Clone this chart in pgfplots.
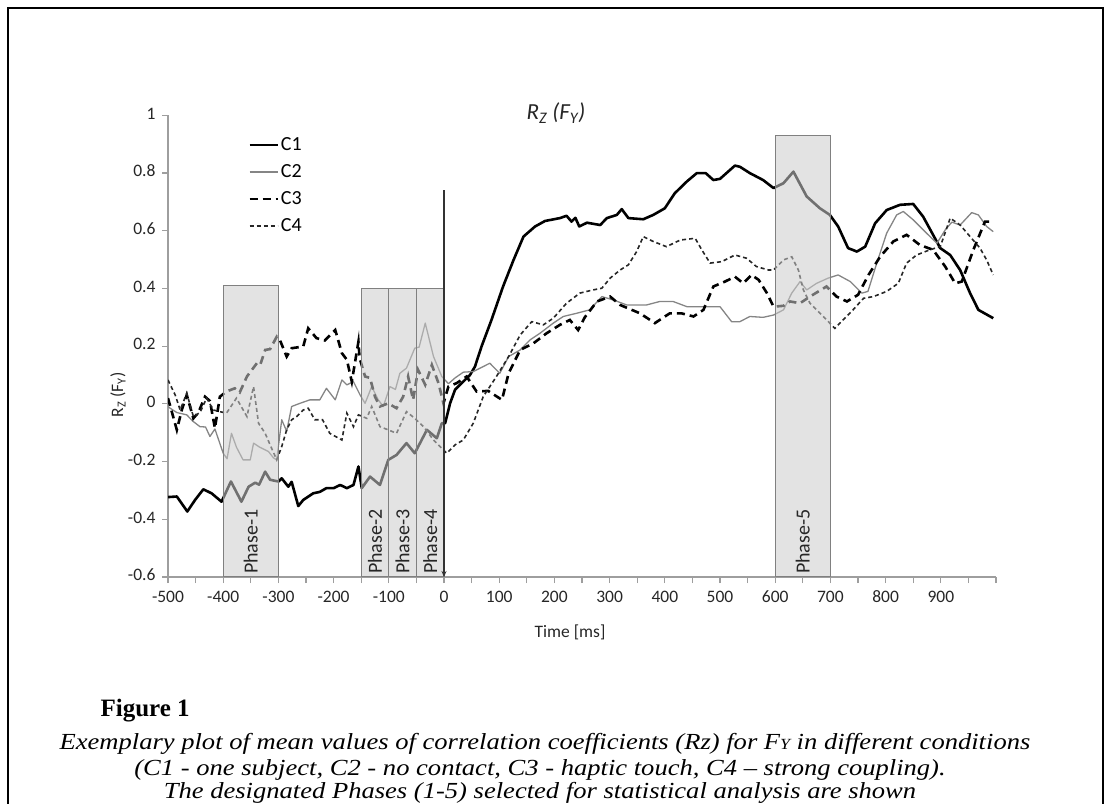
\documentclass[border=0pt]{standalone}
\usepackage{fontspec}
\setmainfont{Carlito}[Numbers=Lining]
\newfontfamily\capfont{Liberation Serif}
\usepackage{pgfplots}
\pgfplotsset{compat=1.18}
\usetikzlibrary{arrows.meta}
\definecolor{axgray}{gray}{0.62}
\definecolor{boxline}{gray}{0.5}
\definecolor{boxfill}{gray}{0.80}
\definecolor{ctwo}{gray}{0.52}
\begin{document}
\begin{tikzpicture}[x=1pt,y=1pt]
\useasboundingbox (0,0) rectangle (1107,803);
\draw[line width=2pt] (8,-10) -- (8,795) -- (1103,795) -- (1103,-10);
\begin{axis}[
  at={(168pt,226pt)}, anchor=south west,
  x=0.552pt, y=288.5pt,
  xmin=-500, xmax=1000, ymin=-0.6, ymax=1,
  axis x line*=bottom, axis y line*=left,
  axis line style={axgray, line width=1.5pt, -},
  xtick={-500,-400,-300,-200,-100,0,100,200,300,400,500,600,700,800,900},
  minor xtick={-450,-350,-250,-150,-50,50,150,250,350,450,550,650,750,850,950,1000},
  ytick={-0.6,-0.4,-0.2,0,0.2,0.4,0.6,0.8,1},
  tick style={axgray, line width=1.2pt},
  major tick length=6pt, minor tick length=6pt,
  tick align=outside,
  typeset ticklabels with strut,
  tick label style={font=\fontsize{17.5}{19}\selectfont, text=black!85},
  /pgf/number format/assume math mode=true,
  xticklabel style={yshift=-3pt},
  yticklabel style={xshift=-3pt},
  legend style={at={(axis cs:-355,0.93)}, anchor=north west, draw=none, fill=none,
    font=\fontsize{20}{22}\selectfont, row sep=8.5pt, inner sep=0pt},
  legend cell align=left,
  legend image code/.code={\draw[#1] (0pt,0pt) -- (28pt,0pt);},
]
% C1
\addplot[black, line width=2.6pt, line join=round] coordinates {
(-500,-0.323) (-484,-0.321) (-465,-0.373) (-451,-0.333) (-436,-0.296) (-421,-0.31) (-403,-0.339)
(-386,-0.269) (-367,-0.339) (-354,-0.287) (-342,-0.273) (-335,-0.28) (-324,-0.235) (-315,-0.263)
(-300,-0.269) (-294,-0.258) (-282,-0.287) (-276,-0.27) (-264,-0.354) (-255,-0.333) (-237,-0.31)
(-225,-0.305) (-213,-0.292) (-200,-0.292) (-188,-0.281) (-176,-0.292) (-164,-0.281) (-155,-0.217)
(-149,-0.292) (-134,-0.252) (-116,-0.281) (-101,-0.194) (-86,-0.177) (-68,-0.136) (-53,-0.171)
(-31,-0.09) (-13,-0.119) (-4,-0.067) (2,-0.067) (11,0.002) (20,0.049) (32,0.072) (47,0.1)
(56,0.129) (68,0.199) (86,0.291) (107,0.407) (126,0.499) (144,0.58) (165,0.615) (183,0.634)
(210,0.644) (222,0.652) (231,0.632) (238,0.645) (245,0.615) (259,0.628) (283,0.62) (295,0.644)
(313,0.655) (322,0.675) (334,0.644) (361,0.64) (379,0.655) (400,0.678) (418,0.73) (440,0.771)
(458,0.8) (474,0.8) (488,0.776) (500,0.78) (527,0.826) (536,0.822) (554,0.8) (578,0.776)
(597,0.748) (615,0.765) (633,0.805) (657,0.719) (681,0.678) (699,0.655) (714,0.615) (732,0.54)
(748,0.528) (763,0.545) (781,0.626) (802,0.672) (826,0.69) (850,0.693) (868,0.649) (886,0.586)
(899,0.54) (917,0.516) (935,0.464) (953,0.384) (968,0.326) (995,0.297)
};
\addlegendentry{C1}
% C2
\addplot[ctwo, line width=1.3pt, line join=round] coordinates {
(-500,-0.01) (-484,-0.03) (-466,-0.038) (-455,-0.06) (-442,-0.079) (-432,-0.08) (-424,-0.113)
(-415,-0.087) (-400,-0.171) (-393,-0.19) (-385,-0.102) (-376,-0.15) (-364,-0.194) (-351,-0.194)
(-345,-0.136) (-334,-0.15) (-318,-0.165) (-309,-0.187) (-303,-0.194) (-294,-0.055) (-285,-0.095)
(-276,-0.009) (-261,0.002) (-243,0.014) (-225,0.014) (-213,0.054) (-197,0.014) (-185,0.083)
(-176,0.066) (-164,0.077) (-152,0.031) (-143,0.002) (-131,0.06) (-119,0.014) (-110,-0.009)
(-98,0.06) (-88,0.05) (-80,0.106) (-68,0.124) (-53,0.193) (-45,0.197) (-34,0.28) (-19,0.164)
(-4,0.095) (8,0.07) (20,0.09) (35,0.11) (53,0.112) (83,0.141) (101,0.106) (117,0.164)
(138,0.187) (156,0.222) (174,0.245) (198,0.28) (216,0.303) (240,0.314) (264,0.326) (286,0.372)
(307,0.36) (331,0.343) (367,0.343) (391,0.355) (415,0.355) (440,0.337) (476,0.337) (500,0.337)
(521,0.285) (536,0.285) (554,0.303) (578,0.3) (597,0.308) (615,0.326) (630,0.384) (645,0.424)
(657,0.395) (675,0.418) (696,0.436) (714,0.447) (736,0.424) (757,0.384) (768,0.39) (784,0.488)
(802,0.592) (820,0.655) (832,0.667) (850,0.638) (874,0.592) (893,0.557) (908,0.603) (920,0.63)
(935,0.62) (956,0.663) (968,0.655) (983,0.615) (995,0.597)
};
\addlegendentry{C2}
% C3
\addplot[black, line width=2.6pt, dash pattern=on 8pt off 5pt] coordinates {
(-500,0.02) (-484,-0.09) (-475,-0.021) (-466,0.031) (-454,-0.05) (-445,-0.03) (-433,0.025)
(-424,0.01) (-415,-0.084) (-406,0.025) (-394,0.043) (-379,0.054) (-370,0.04) (-357,0.095)
(-339,0.141) (-333,0.135) (-324,0.187) (-315,0.19) (-303,0.233) (-297,0.22) (-285,0.164)
(-276,0.193) (-255,0.199) (-246,0.262) (-231,0.228) (-216,0.22) (-197,0.256) (-185,0.176)
(-176,0.153) (-167,0.077) (-155,0.216) (-153,0.16) (-143,0.095) (-134,0.09) (-125,0.025)
(-116,-0.009) (-101,0.002) (-86,-0.015) (-74,0.025) (-65,0.095) (-56,0.014) (-47,0.118)
(-34,0.066) (-22,0.135) (-10,0.072) (-1,0.002) (8,0.06) (23,0.072) (41,0.095) (59,0.043)
(80,0.045) (105,0.014) (117,0.106) (138,0.187) (162,0.21) (186,0.245) (210,0.274) (228,0.291)
(243,0.256) (255,0.30) (277,0.355) (301,0.372) (319,0.343) (355,0.314) (382,0.28) (409,0.314)
(430,0.314) (452,0.303) (470,0.326) (488,0.407) (509,0.424) (527,0.441) (542,0.418) (557,0.447)
(570,0.43) (585,0.384) (597,0.337) (615,0.34) (627,0.355) (645,0.349) (663,0.372) (693,0.407)
(711,0.372) (730,0.355) (750,0.378) (769,0.447) (790,0.51) (814,0.563) (838,0.586) (862,0.551)
(886,0.534) (908,0.476) (926,0.418) (938,0.424) (959,0.534) (980,0.632) (995,0.632)
};
\addlegendentry{C3}
% C4
\addplot[black!85, line width=1.6pt, dash pattern=on 4pt off 3pt] coordinates {
(-500,0.083) (-487,0.031) (-478,-0.021) (-466,0.037) (-454,-0.044) (-442,-0.03) (-430,0.02)
(-418,-0.021) (-406,-0.027) (-394,-0.032) (-376,0.02) (-357,-0.044) (-345,0.06) (-336,-0.067)
(-324,-0.102) (-315,-0.142) (-303,-0.194) (-294,-0.148) (-285,-0.09) (-276,-0.055) (-267,-0.044)
(-255,-0.021) (-246,-0.015) (-234,-0.055) (-220,-0.055) (-207,-0.102) (-185,-0.125) (-176,-0.032)
(-164,-0.079) (-155,-0.038) (-140,-0.05) (-131,-0.009) (-116,-0.079) (-101,-0.09) (-86,-0.102)
(-68,-0.027) (-53,-0.05) (-37,-0.079) (-19,-0.125) (5,-0.171) (20,-0.142) (35,-0.125) (53,-0.067)
(71,0.025) (95,0.095) (117,0.164) (138,0.239) (159,0.285) (180,0.274) (198,0.297) (222,0.349)
(246,0.384) (270,0.395) (286,0.401) (301,0.436) (319,0.464) (334,0.482) (349,0.528) (361,0.58)
(379,0.563) (403,0.545) (428,0.568) (455,0.574) (467,0.534) (482,0.488) (503,0.493) (527,0.516)
(548,0.505) (566,0.476) (588,0.464) (597,0.464) (615,0.499) (630,0.51) (642,0.464) (651,0.395)
(663,0.349) (687,0.303) (708,0.262) (723,0.291) (741,0.326) (760,0.366) (778,0.372) (802,0.39)
(823,0.418) (838,0.488) (856,0.516) (880,0.534) (899,0.545) (917,0.644) (935,0.62) (953,0.58)
(971,0.54) (983,0.499) (995,0.447)
};
\addlegendentry{C4}
% phase boxes (semi-transparent, drawn over the curves)
\pgfplotsset{phasebox/.style={forget plot, draw=boxline, line width=1.3pt, fill=boxfill, fill opacity=0.55, draw opacity=1}}
\addplot[phasebox] coordinates {(-400,-0.6) (-400,0.41) (-300,0.41) (-300,-0.6) (-400,-0.6)};
\addplot[phasebox] coordinates {(-150,-0.6) (-150,0.40) (-100,0.40) (-100,-0.6) (-150,-0.6)};
\addplot[phasebox] coordinates {(-100,-0.6) (-100,0.40) (-50,0.40) (-50,-0.6) (-100,-0.6)};
\addplot[phasebox] coordinates {(-50,-0.6) (-50,0.40) (0,0.40) (0,-0.6) (-50,-0.6)};
\addplot[phasebox] coordinates {(600,-0.6) (600,0.93) (700,0.93) (700,-0.6) (600,-0.6)};
% zero line with arrow
\addplot[forget plot, black!80, line width=1.6pt, -{Stealth[length=6pt,width=5pt]}]
  coordinates {(0,0.74) (0,-0.6)};
% phase labels
\begin{scope}[every node/.style={rotate=90, anchor=west, inner sep=0pt, font=\fontsize{20}{22}\selectfont, text=black!85}]
\node at (axis cs:-350,-0.59) {Phase-1};
\node at (axis cs:-125,-0.59) {Phase-2};
\node at (axis cs:-75,-0.59) {Phase-3};
\node at (axis cs:-25,-0.59) {Phase-4};
\node at (axis cs:650,-0.59) {Phase-5};
\end{scope}
\end{axis}
% title and axis labels
\node[font=\itshape\fontsize{23}{25}\selectfont, text=black!85] at (556,690) {R\textsubscript{Z} (F\textsubscript{Y})};
\node[rotate=90, font=\fontsize{17.5}{19}\selectfont, text=black!85] at (118,408) {R\textsubscript{Z} (F\textsubscript{Y})};
\node[font=\fontsize{17.5}{19}\selectfont, text=black!85] at (570,171) {Time [ms]};
% caption
\node[anchor=base west, font=\capfont\bfseries\fontsize{25}{27}\selectfont] at (97,87) {Figure 1};
\begin{scope}[every node/.style={anchor=base, font=\capfont\itshape\fontsize{23}{25}\selectfont, inner sep=0pt}]
\node at (545,54) {\scalebox{1.155}[1]{Exemplary plot of mean values of correlation coefficients (Rz) for F{\fontsize{15.5}{16}\selectfont Y} in different conditions}};
\node at (540,28) {\scalebox{1.155}[1]{(C1 - one subject, C2 - no contact, C3 - haptic touch, C4 – strong coupling).}};
\node at (540,4.5) {\scalebox{1.155}[1]{The designated Phases (1-5) selected for statistical analysis are shown}};
\end{scope}
\end{tikzpicture}
\end{document}
